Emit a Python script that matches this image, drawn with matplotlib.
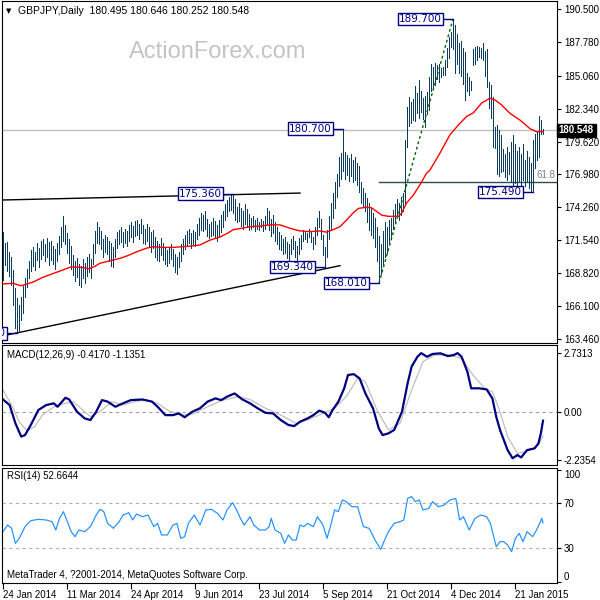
import matplotlib
matplotlib.use("Agg")
import matplotlib.pyplot as plt
from matplotlib.transforms import blended_transform_factory

plt.rcParams['font.family'] = ['Liberation Sans', 'DejaVu Sans']

# ---- daily bars, index 0 = 24 Jan 2014 ----
high = [172.2, 171.3, 171.4, 170.6, 170.2, 169.1, 167.6, 166.8, 166.2, 166.9,
        167.8, 168.4, 169.2, 169.8, 170.7, 171.0, 170.6, 171.3, 170.9, 171.5,
        171.6, 171.2, 171.7, 171.4, 171.5, 171.1, 170.8, 171.3, 171.9, 172.6,
        173.5, 172.8, 172.1, 171.6, 171.1, 170.3, 169.8, 170.1, 169.6, 169.4,
        170.0, 169.7, 170.2, 170.4, 170.0, 171.2, 172.3, 173.0, 172.6, 172.3,
        171.6, 172.0, 171.8, 171.5, 171.3, 171.0, 171.6, 172.2, 172.4, 172.6,
        172.2, 172.5, 172.3, 172.8, 173.0, 172.7, 173.1, 173.2, 172.9, 173.3,
        172.8, 172.5, 172.9, 172.6, 172.2, 172.4, 171.8, 171.5, 171.2, 171.7,
        171.3, 170.9, 170.7, 171.0, 171.2, 170.8, 170.4, 170.2, 170.6, 171.2,
        171.6, 172.0, 172.3, 172.5, 172.1, 172.4, 172.2, 172.9, 173.4, 173.8,
        173.6, 173.9, 173.3, 172.9, 173.0, 173.4, 173.1, 172.8, 173.2, 173.6,
        173.9, 174.5, 174.8, 175.1, 175.3, 175.36, 174.9, 174.3, 174.6, 174.2,
        173.9, 174.5, 174.1, 173.7, 173.4, 173.5, 173.2, 173.4, 173.0, 173.3,
        173.1, 173.5, 174.2, 173.9, 173.3, 173.6, 173.0, 172.6, 172.2, 172.0,
        171.6, 171.8, 171.4, 171.2, 171.6, 171.9, 171.5, 171.1, 171.7, 172.0,
        172.4, 172.3, 172.1, 172.5, 172.2, 171.8, 172.6, 173.4, 173.9, 173.3,
        172.0, 171.0, 172.4, 173.5, 174.6, 175.4, 176.3, 177.0, 178.4, 178.7,
        180.7, 178.8, 178.5, 178.3, 178.6, 178.1, 178.4, 177.9, 177.6, 176.3,
        175.8, 175.4, 175.0, 174.6, 174.2, 173.8, 173.4, 172.6, 171.9, 171.2,
        172.3, 173.0, 172.6, 173.2, 173.4, 174.0, 174.5, 174.9, 174.6, 175.1,
        175.4, 179.8, 182.5, 183.3, 182.9, 183.1, 184.2, 183.6, 184.7, 183.8,
        183.2, 183.4, 183.7, 184.95, 186.0, 185.8, 186.1, 185.9, 186.0, 185.7,
        185.8, 186.3, 187.3, 188.2, 188.6, 189.7, 189.2, 188.5, 187.7, 187.9,
        187.3, 187.0, 185.3, 184.9, 184.6, 187.2, 187.4, 187.5, 187.4, 187.3,
        187.7, 187.1, 187.2, 184.5, 184.3, 183.3, 180.8, 181.0, 180.6, 180.2,
        179.0, 178.6, 179.2, 178.8, 179.6, 180.2, 179.4, 178.9, 179.2, 178.6,
        179.4, 178.1, 178.9, 178.4, 177.9, 179.8, 180.3, 180.4, 181.7, 181.4, 180.646]
low = [168.3, 169.5, 169.0, 168.6, 167.9, 166.2, 164.3, 163.88, 164.1, 165.0,
       165.6, 166.9, 167.7, 168.4, 169.0, 169.4, 169.1, 169.9, 169.3, 170.0,
       170.3, 169.8, 170.2, 169.5, 169.9, 169.6, 169.2, 169.8, 170.4, 171.0,
       171.5, 171.2, 170.5, 169.7, 169.2, 168.7, 168.2, 168.5, 167.9, 167.7,
       168.4, 168.0, 168.6, 168.9, 168.4, 169.6, 170.5, 171.3, 171.2, 170.8,
       170.2, 170.6, 170.4, 169.8, 169.4, 169.3, 170.2, 170.9, 171.2, 171.4,
       171.0, 171.3, 171.1, 171.5, 171.8, 171.4, 171.9, 172.0, 171.6, 172.1,
       171.3, 171.2, 171.5, 171.0, 170.6, 170.9, 170.2, 169.9, 169.8, 170.3,
       169.9, 169.6, 169.4, 169.7, 170.0, 169.4, 168.9, 168.8, 169.3, 169.8,
       170.4, 170.8, 171.1, 171.3, 170.9, 171.2, 171.1, 171.6, 172.0, 172.4,
       172.3, 172.5, 171.9, 171.7, 171.9, 172.0, 171.8, 171.5, 171.8, 172.2,
       172.6, 173.2, 173.5, 173.9, 174.0, 173.8, 173.2, 173.0, 173.1, 172.7,
       172.5, 172.9, 172.6, 172.4, 172.5, 172.6, 172.3, 172.5, 172.4, 172.6,
       172.3, 172.5, 172.8, 172.4, 171.9, 172.1, 171.5, 171.2, 170.8, 170.7,
       170.4, 170.5, 170.1, 169.9, 170.4, 170.8, 170.2, 169.8, 170.4, 170.8,
       171.5, 171.6, 171.4, 171.8, 171.4, 170.8, 171.2, 172.0, 172.6, 171.6,
       170.3, 169.34, 170.2, 171.6, 172.5, 173.4, 174.2, 175.1, 176.0, 176.6,
       177.2, 176.6, 176.9, 176.4, 176.8, 176.3, 176.5, 176.1, 175.5, 174.6,
       174.3, 173.9, 173.0, 172.4, 172.0, 171.7, 171.0, 169.8, 168.01, 168.8,
       169.6, 170.2, 170.5, 171.3, 171.7, 172.5, 173.0, 173.5, 173.2, 173.6,
       173.9, 174.4, 179.2, 180.9, 181.2, 181.4, 181.3, 182.0, 181.6, 182.1,
       181.5, 180.8, 181.9, 182.2, 183.8, 184.0, 184.3, 184.8, 184.5, 184.9,
       185.1, 185.1, 185.8, 186.5, 187.4, 187.2, 185.3, 186.0, 185.3, 185.0,
       184.4, 183.05, 183.8, 183.5, 183.9, 185.9, 186.0, 186.3, 186.6, 186.5,
       186.3, 185.0, 184.1, 182.4, 181.6, 179.2, 179.1, 177.0, 176.8, 177.1,
       177.2, 176.7, 176.5, 177.0, 176.3, 176.0, 176.2, 175.9, 176.4, 175.8,
       176.5, 176.0, 176.4, 175.8, 175.6, 175.49, 177.5, 178.1, 178.4, 180.3, 180.252]

# moving average (red), read at sample bars
ma_idx = [0, 5, 9, 15, 20, 25, 30, 34, 40, 43, 46, 48.5, 53.5, 58.5, 62, 67, 72, 75,
          80, 85, 89, 93.5, 98.5, 103.5, 108.5, 112.7, 115, 118.5, 123.5, 128.5,
          133.5, 138.5, 142, 145, 148.5, 153.5, 158.5, 161.8, 165, 168.5, 171.8,
          175.2, 177.7, 181.8, 184.3, 186.8, 189.3, 192.7, 197.7, 199.3, 201.8,
          205.2, 208.5, 211.8, 213.5, 218.5, 223.5, 227.7, 231.8, 235.2, 239.3,
          243.5, 246, 249.3, 253.5, 258.5, 263.5, 266.8, 270]
ma_val = [167.95, 168.0, 167.8, 168.1, 168.5, 168.8, 169.1, 169.35, 169.3, 169.2,
          169.4, 169.65, 169.85, 170.05, 170.25, 170.6, 170.9, 171.0, 170.95,
          170.95, 171.0, 171.05, 171.15, 171.55, 171.8, 172.15, 172.4, 172.5,
          172.65, 172.7, 172.8, 172.8, 172.6, 172.45, 172.3, 172.25, 172.3, 172.2,
          172.4, 172.65, 173.2, 173.8, 174.15, 174.25, 174.2, 173.9, 173.6, 173.5,
          173.5, 173.75, 174.6, 175.25, 176.1, 177.05, 177.3, 178.7, 180.2, 181.0,
          181.7, 182.0, 182.8, 183.2, 183.05, 182.65, 181.95, 181.4, 180.7, 180.45,
          180.45]

# MACD main and signal
macd_idx = [0, 3.3, 6.2, 9.1, 11, 13.9, 17.7, 21.6, 25.4, 27.3, 31.2, 33.1, 37,
            40.8, 43.7, 46.6, 49.5, 52.3, 56.2, 60, 63.9, 69.7, 74.5, 77.3, 81.2,
            85, 87.9, 90.8, 94.7, 98.5, 102.3, 106.2, 109.1, 112, 115.8, 119.7,
            123.5, 127.3, 131.2, 135, 138.9, 142.7, 145.6, 148.5, 152.3, 155.2,
            158.1, 161, 162.9, 164.8, 167.7, 170.6, 172.5, 175.4, 178.3, 181.2,
            185, 187.9, 189.8, 192.7, 195.6, 199.5, 202.3, 204.3, 207.2, 209.1,
            212, 214.8, 218.7, 222.5, 225.4, 227.3, 229.3, 232.2, 234.1, 237.9,
            241.8, 244.7, 246.6, 248.5, 250.4, 252.3, 254.8, 257.2, 259.1, 262,
            265.8, 267.7, 269, 270]
macd_val = [0.57, 0.31, -0.54, -1.16, -1.09, -0.62, 0.08, 0.31, 0.39, 0.23, 0.65,
            0.57, 0.0, -0.31, -0.39, 0.0, 0.54, 0.47, 0.23, 0.39, 0.54, 0.57, 0.47,
            0.23, -0.16, -0.16, -0.08, -0.26, 0.0, 0.16, 0.47, 0.62, 0.54, 0.70,
            0.85, 0.57, 0.39, 0.16, -0.05, -0.08, -0.39, -0.62, -0.67, -0.47, -0.31,
            -0.16, 0.05, -0.05, -0.26, 0.08, 0.47, 1.09, 1.71, 1.75, 1.55, 0.85,
            0.16, -0.78, -1.09, -1.01, -0.85, 0.0, 1.32, 2.10, 2.56, 2.73, 2.56,
            2.69, 2.72, 2.59, 2.64, 2.73, 2.56, 1.86, 1.09, 1.09, 1.04, 0.62, -0.23,
            -0.85, -1.32, -1.79, -2.17, -2.02, -2.13, -1.79, -1.71, -1.48, -0.98,
            -0.42]
sig_idx = [0, 4.3, 8.1, 12, 15.8, 19.7, 25.4, 31.2, 35, 38.9, 43.7, 48.5, 54.3,
           60, 65.8, 71.6, 77.3, 83.1, 88.9, 94.7, 102.3, 110, 117.7, 123.5, 131.2,
           138.9, 146.6, 152.3, 160, 165.8, 171.6, 177.3, 181.2, 187, 192.7, 198.5,
           204.3, 210, 215.8, 223.5, 229.3, 235, 240.8, 244.7, 248.5, 252.3, 257.2,
           262, 267.7, 270]
sig_val = [1.01, 0.31, -0.47, -0.89, -0.70, -0.16, 0.23, 0.39, 0.47, 0.16, -0.23,
           0.0, 0.47, 0.31, 0.47, 0.54, 0.39, 0.03, -0.16, -0.11, 0.23, 0.54, 0.70,
           0.57, 0.16, -0.16, -0.54, -0.39, -0.08, 0.16, 0.70, 1.55, 1.40, 0.08,
           -0.85, -0.54, 1.01, 2.33, 2.64, 2.64, 2.48, 1.71, 1.09, 0.93, 0.0, -1.16,
           -1.94, -1.86, -1.55, -1.14]

# RSI(14)
rsi_idx = [0, 2.3, 4.3, 6.2, 8.1, 11, 13.9, 17.7, 21.6, 24.5, 26.4, 28.3, 30.2,
           32.2, 34.1, 36, 37.9, 40.8, 43.7, 46.6, 48.5, 50.4, 52.3, 55.2, 58.1,
           60, 62.9, 64.8, 66.8, 69.7, 72.5, 75.4, 77.3, 79.3, 82.2, 85, 87, 88.9,
           90.8, 92.7, 95.6, 98.5, 101.4, 104.3, 107.2, 110, 112, 114.8, 116.8,
           118.7, 120.6, 123.5, 125.4, 128.3, 131.2, 133.1, 134.1, 136, 138.9,
           140.8, 142.7, 144.7, 146.6, 148.5, 150.4, 152.3, 155.2, 157.2, 160, 162,
           163.9, 165.8, 167.7, 169.7, 171.6, 174.5, 177.3, 180.2, 183.1, 186,
           188.9, 190.8, 192.7, 195.6, 198.5, 200.4, 202.3, 204.3, 206.2, 208.1,
           210, 212.9, 214.8, 217.7, 220.6, 223.5, 226.4, 228.3, 230.2, 233.1, 236,
           238.9, 241.8, 243.7, 246.6, 248.5, 250.4, 252.3, 254.3, 256.2, 258.1,
           260, 262, 264.8, 266.8, 268.7, 269.4, 270]
rsi_val = [44.8, 50.7, 47.8, 34.4, 38.9, 49.3, 54.6, 55.8, 55.2, 53.7, 46.3, 56.7,
           62.6, 53.7, 44.8, 40.4, 46.3, 44.8, 49.3, 59.6, 64.7, 62.6, 52.2, 47.8,
           53.7, 59.6, 61.7, 55.2, 60.5, 58.1, 59.6, 49.3, 52.2, 41.9, 41.9, 50.7,
           52.2, 38.9, 40.4, 52.2, 59.6, 50.7, 64.1, 64.7, 61.1, 55.2, 64.1, 70.6,
           64.1, 56.7, 50.7, 58.1, 50.7, 46.3, 46.3, 49.3, 56.7, 46.3, 43.3, 34.4,
           41.9, 37.4, 37.4, 50.7, 49.3, 52.2, 49.3, 58.1, 50.7, 38.9, 50.7, 64.1,
           62.6, 73.0, 71.5, 67.0, 67.0, 49.3, 47.8, 37.4, 29.1, 37.4, 44.8, 52.2,
           53.7, 55.2, 74.4, 76.0, 71.5, 73.0, 64.1, 65.6, 71.5, 67.0, 68.5, 73.0,
           74.4, 55.2, 58.1, 46.3, 56.7, 59.6, 58.1, 52.2, 31.5, 35.9, 35.9, 32.9,
           27.0, 38.9, 43.3, 35.9, 44.8, 40.4, 46.3, 53.7, 56.7, 52.7]

# drawn objects
peak_idx = [7, 115, 161, 170, 188, 225, 265]
peak_val = [163.88, 175.36, 169.34, 180.70, 168.01, 189.70, 175.49]
upper_tl_idx = [-0.5, 148.5]
upper_tl_val = [174.84, 175.41]
lower_tl_idx = [2, 168.5]
lower_tl_val = [163.76, 169.45]
fib_level = 176.30
last_price = 180.548

price_ticks = [190.5, 187.78, 185.06, 182.34, 179.62, 176.98, 174.26, 171.54,
               168.82, 166.1, 163.46]
date_idx = [0, 32, 64, 96, 128, 160, 192, 224, 256]
date_lbl = ["24 Jan 2014", "11 Mar 2014", "24 Apr 2014", "9 Jun 2014",
            "23 Jul 2014", "5 Sep 2014", "21 Oct 2014", "4 Dec 2014", "21 Jan 2015"]

NAVY = '#000080'
BAR = '#0d3d5e'


def fx(p):
    return p / 600.0


def fy(p):
    return 1 - p / 600.0


fig = plt.figure(figsize=(6, 6), dpi=100)
ax1 = fig.add_axes([fx(2), fy(343), fx(555), fx(342)])
ax2 = fig.add_axes([fx(2), fy(465), fx(555), fx(120)])
ax3 = fig.add_axes([fx(2), fy(583), fx(555), fx(115)])

for ax in (ax1, ax2, ax3):
    ax.set_xlim(-0.5, 277)
    ax.yaxis.tick_right()
    ax.tick_params(axis='y', direction='out', length=3, width=0.8,
                   labelsize=7, pad=2, colors='black')
    for s in ax.spines.values():
        s.set_linewidth(0.8)
for ax in (ax1, ax2):
    ax.set_xticks([])

# ---- price panel ----
idx = list(range(len(high)))
ax1.set_ylim(163.10, 191.18)
ax1.axhline(last_price, color='#c0c0c0', lw=1, zorder=1)
ax1.vlines(idx, low, high, color=BAR, lw=0.5, antialiased=False, zorder=3)
ax1.plot(ma_idx, ma_val, color='red', lw=1, zorder=4)
ax1.plot(upper_tl_idx, upper_tl_val, color='black', lw=1, zorder=2)
ax1.plot(lower_tl_idx, lower_tl_val, color='black', lw=1, zorder=2)
ax1.plot([peak_idx[4], peak_idx[5]], [peak_val[4], peak_val[5]],
         color='#006400', lw=1, ls=(0, (2, 2)), zorder=4)
ax1.plot([peak_idx[4], 277], [fib_level, fib_level], color='#2f4f4f', lw=1, zorder=2)
ax1.text(276, fib_level + 0.15, '61.8', color='#708090', fontsize=7,
         ha='right', va='bottom')
ax1.set_yticks(price_ticks)
ax1.set_yticklabels(['%.3f' % v for v in price_ticks])

for i, v in zip(peak_idx, peak_val):
    ax1.plot([i - 5, i], [v, v], color=NAVY, lw=1, zorder=5)
    ax1.text(i - 5.6, v, '%.3f' % v, ha='right', va='center', color=NAVY,
             fontsize=7.5, family='DejaVu Sans', zorder=6, clip_on=True,
             bbox=dict(boxstyle='square,pad=0.12', fc='white', ec=NAVY, lw=1))

tr = blended_transform_factory(ax1.transAxes, ax1.transData)
ax1.text(1.003, last_price, '180.548', transform=tr, color='white',
         fontsize=7, fontweight='bold', ha='left', va='center',
         bbox=dict(boxstyle='square,pad=0.2', fc='black', ec='black'))

# ---- MACD panel ----
ax2.set_ylim(-2.484, 3.108)
ax2.axhline(0, color='#a0a0a0', lw=0.8, ls=(0, (3, 3)))
ax2.plot(sig_idx, sig_val, color='#c0c0c0', lw=0.9)
ax2.plot(macd_idx, macd_val, color=NAVY, lw=1.6)
ax2.set_yticks([2.7313, 0, -2.2354])
ax2.set_yticklabels(['2.7313', '0.00', '-2.2354'])

# ---- RSI panel ----
ax3.set_ylim(-0.8, 101.4)
for lv in (70, 30):
    ax3.axhline(lv, color='#b0b0b0', lw=0.8, ls=(0, (3, 3)))
ax3.plot(rsi_idx, rsi_val, color='#1e90ff', lw=0.85)
ax3.set_yticks([100, 70, 30, 0])
ax3.set_yticklabels(['100', '70', '30', '0'])
ylab = ax3.get_yticklabels()
ylab[0].set_va('top')
ylab[3].set_va('bottom')
ax3.set_xticks(date_idx)
ax3.set_xticklabels(date_lbl, ha='left')
ax3.tick_params(axis='x', direction='out', length=4, width=0.8, labelsize=7, pad=1)

# ---- texts ----
fig.text(fx(218), fy(52), 'ActionForex.com', ha='center', va='center',
         fontsize=17, color='#c4c4c4')
fig.text(fx(6), fy(11), '\u25bc', ha='left', va='center', fontsize=5,
         family='DejaVu Sans')
fig.text(fx(18), fy(11), 'GBPJPY,Daily  180.495 180.646 180.252 180.548',
         ha='left', va='center', fontsize=7.5)
fig.text(fx(7), fy(355), 'MACD(12,26,9) -0.4170 -1.1351', ha='left',
         va='center', fontsize=7)
fig.text(fx(7), fy(476), 'RSI(14) 52.6644', ha='left', va='center', fontsize=7)
fig.text(fx(7), fy(575), 'MetaTrader 4, ?2001-2014, MetaQuotes Software Corp.',
         ha='left', va='center', fontsize=7)

fig.savefig('out.png', dpi=100)
